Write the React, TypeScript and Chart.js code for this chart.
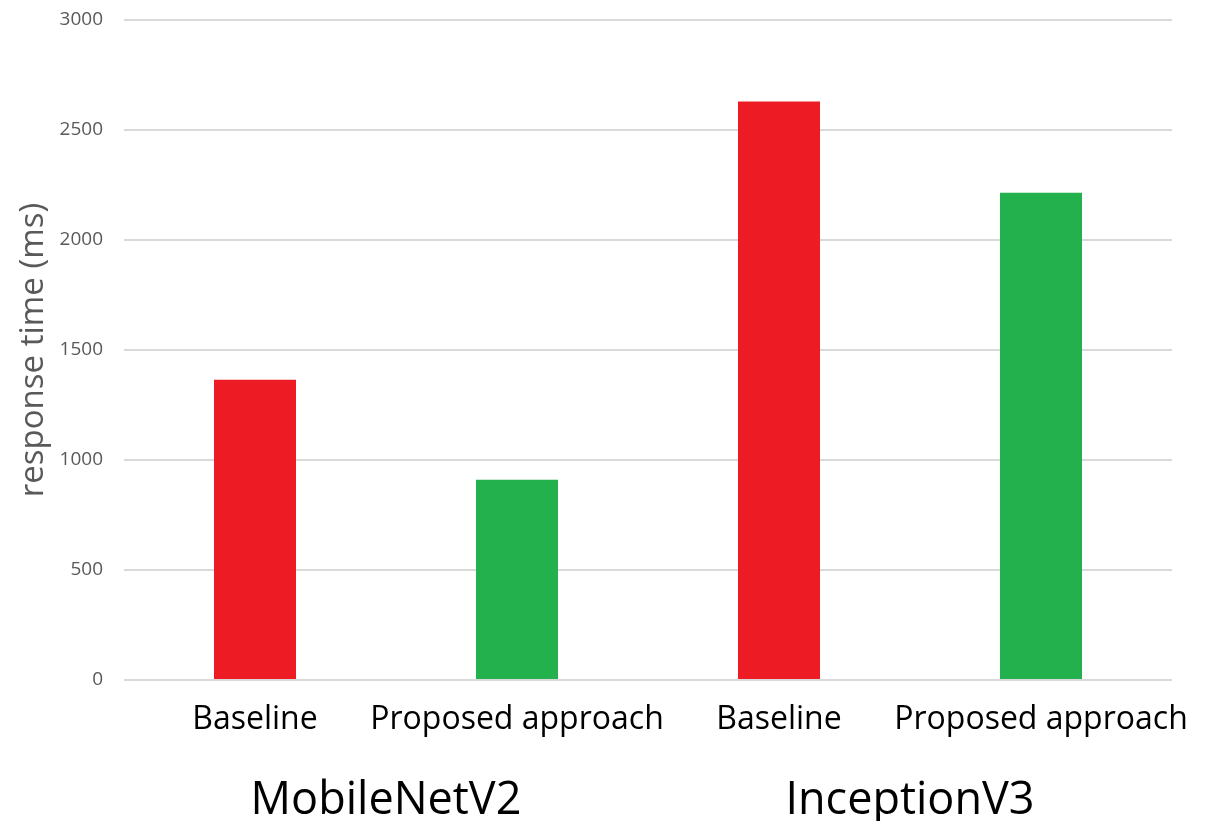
import React, { useEffect, useRef } from "react";
import { Chart, registerables } from "chart.js";

Chart.register(...registerables);

const categories = ["Baseline", "Proposed approach", "Baseline", "Proposed approach"];
const groups = ["MobileNetV2", "InceptionV3"];
const responseTimes = [1365, 910, 2630, 2215];
const barColors = ["#ED1C24", "#22B14C", "#ED1C24", "#22B14C"];
const yTicks = [0, 500, 1000, 1500, 2000, 2500, 3000];
const yTitle = "response time (ms)";

const FONT = "'Open Sans', 'DejaVu Sans', sans-serif";

export default function App() {
  const ref = useRef<HTMLCanvasElement | null>(null);

  useEffect(() => {
    if (!ref.current) return;
    const chart = new Chart(ref.current, {
      type: "bar",
      data: {
        labels: categories,
        datasets: [
          {
            data: responseTimes,
            backgroundColor: barColors,
            borderWidth: 0,
            barPercentage: 0.313,
            categoryPercentage: 1,
            xAxisID: "x",
            yAxisID: "y",
          },
        ],
      },
      options: {
        animation: false,
        responsive: true,
        maintainAspectRatio: false,
        layout: { padding: { top: 20, right: 60, left: 0, bottom: 0 } },
        plugins: {
          legend: { display: false },
          tooltip: { enabled: false },
        },
        scales: {
          x: {
            type: "category",
            position: "bottom",
            weight: 0,
            grid: { display: false },
            border: { display: false },
            ticks: {
              color: "#000000",
              font: { family: FONT, size: 32 },
              padding: 13,
              maxRotation: 0,
              minRotation: 0,
              autoSkip: false,
            },
            afterFit: (s: any) => {
              s.height = 60;
              s.paddingLeft = 0;
              s.paddingRight = 0;
            },
          },
          x2: {
            type: "category",
            labels: groups,
            position: "bottom",
            weight: 1,
            offset: true,
            grid: { display: false },
            border: { display: false },
            ticks: {
              color: "#000000",
              font: { family: FONT, size: 45 },
              padding: 26,
              maxRotation: 0,
              minRotation: 0,
              autoSkip: false,
            },
            afterFit: (s: any) => {
              s.height = 81;
              s.paddingLeft = 0;
              s.paddingRight = 0;
            },
          },
          y: {
            min: 0,
            max: 3000,
            afterBuildTicks: (s: any) => {
              s.ticks = yTicks.map((v) => ({ value: v }));
            },
            grid: { color: "#d9d9d9", lineWidth: 2, drawTicks: false },
            border: { display: false },
            ticks: {
              color: "#595959",
              font: { family: FONT, size: 19 },
              padding: 21,
              callback: (v: any) => String(v),
            },
            title: {
              display: true,
              text: yTitle,
              color: "#595959",
              font: { family: FONT, size: 33 },
              padding: { top: 14, bottom: 0 },
            },
            afterFit: (s: any) => {
              s.width = 124;
              s.paddingTop = 0;
              s.paddingBottom = 0;
            },
          },
        },
      },
    });
    return () => chart.destroy();
  }, []);

  return (
    <div style={{ position: "fixed", left: 0, top: 0, width: "100vw", height: "100vh", background: "#ffffff" }}>
      <canvas ref={ref} />
    </div>
  );
}
